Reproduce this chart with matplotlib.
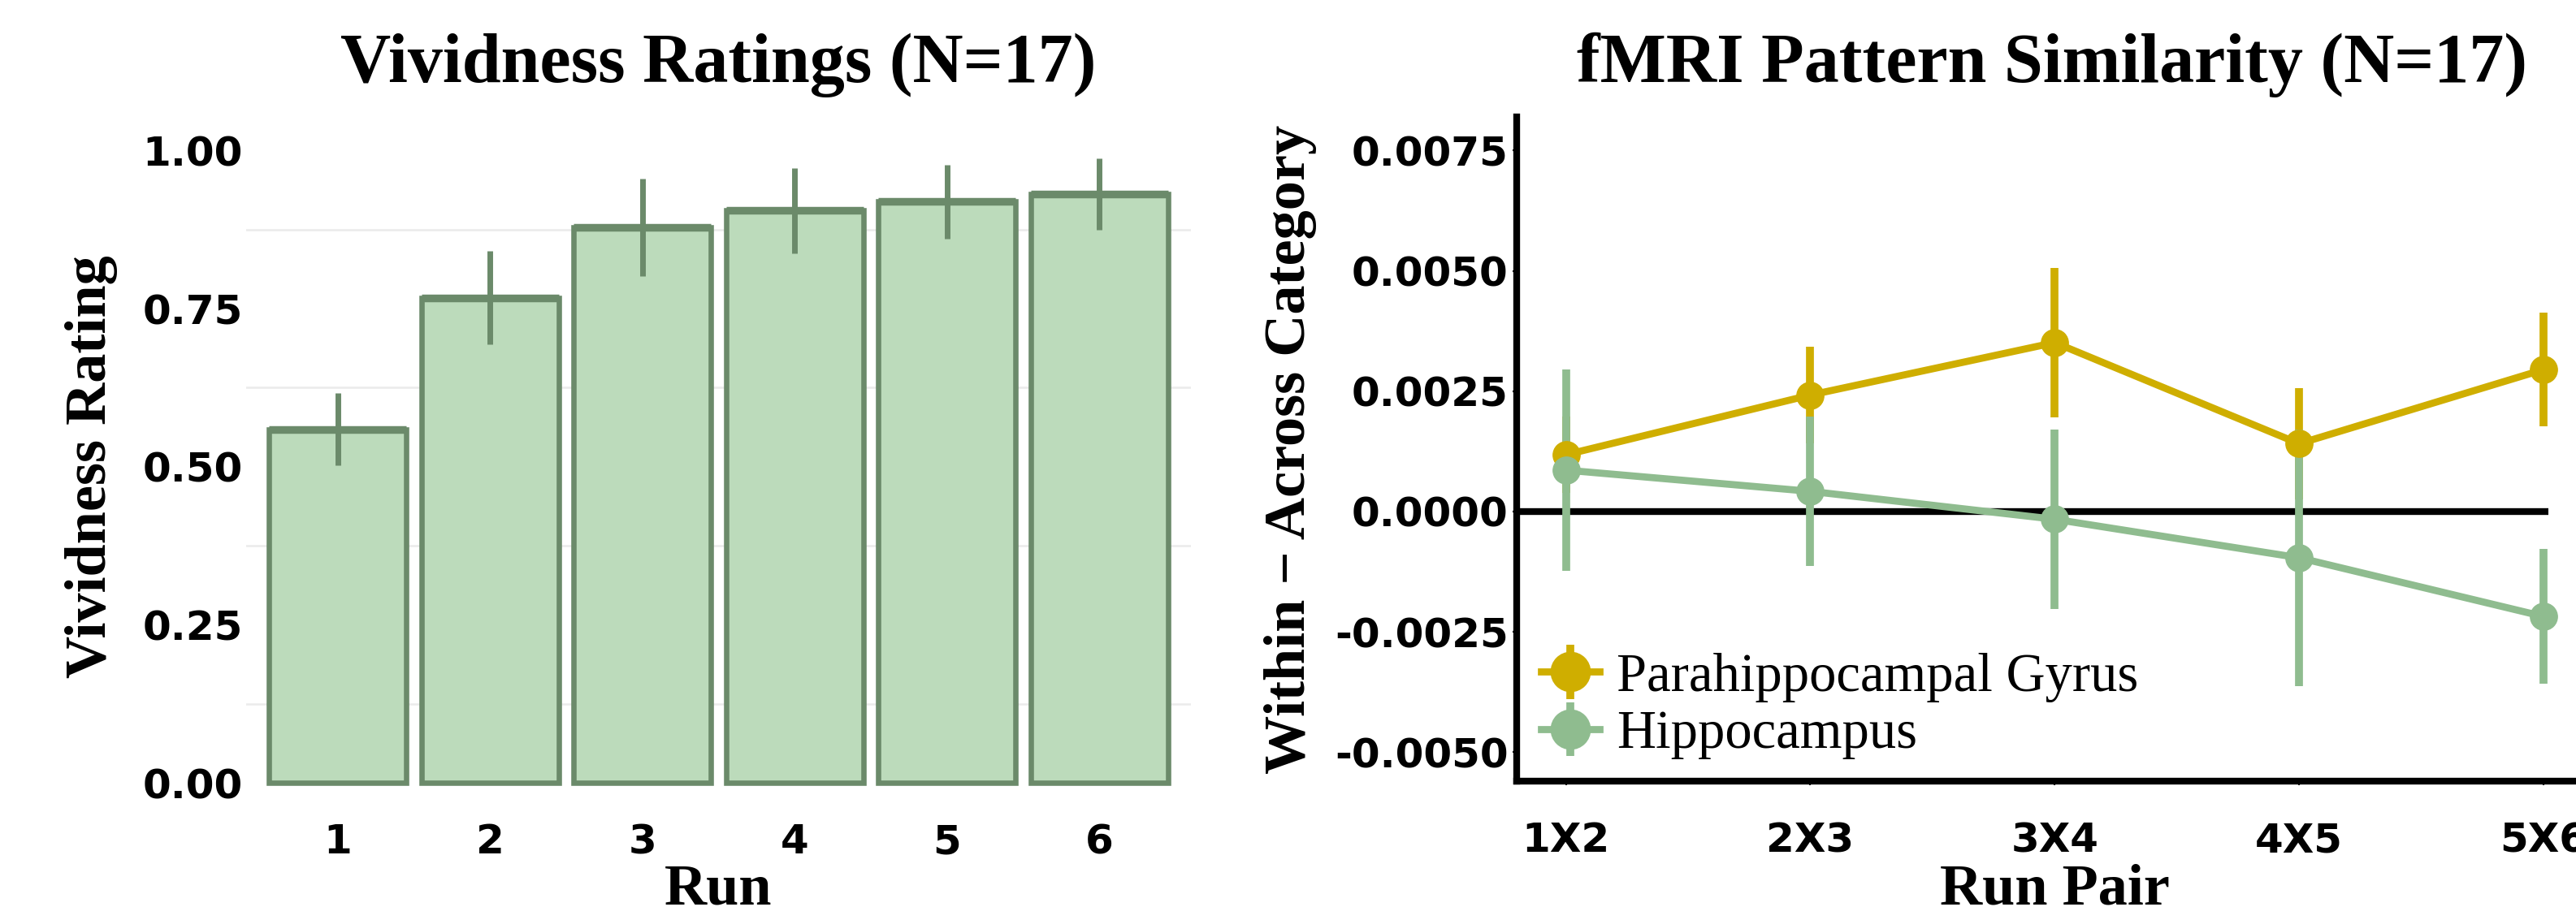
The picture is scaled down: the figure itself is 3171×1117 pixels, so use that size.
import numpy as np
import matplotlib.pyplot as plt

# Left panel: vividness ratings per run
runs = ['1', '2', '3', '4', '5', '6']
vivid_mean = [0.559, 0.767, 0.879, 0.905, 0.919, 0.931]
vivid_err = [0.057, 0.074, 0.077, 0.067, 0.058, 0.057]

# Right panel: within - across category similarity per run pair
pairs = ['1X2', '2X3', '3X4', '4X5', '5X6']
phg_mean = [0.00118, 0.00242, 0.00351, 0.00141, 0.00295]
phg_err = [0.0008, 0.0010, 0.00155, 0.00116, 0.00118]
hpc_mean = [0.00086, 0.00042, -0.00016, -0.00096, -0.00218]
hpc_err = [0.0021, 0.00155, 0.00186, 0.00266, 0.0014]

bar_fill = '#BCDBBB'
bar_edge = '#6B8A6A'
gold = '#CFAE00'
green = '#8FBC8F'

serif = 'Liberation Serif'
sans = 'DejaVu Sans'

fig = plt.figure(figsize=(31.71, 11.17), dpi=100)

# ---- left: bar chart ----
ax1 = fig.add_axes([0.0956, 0.1017, 0.3667, 0.7673])
x = np.arange(len(runs))
ax1.bar(x, vivid_mean, width=0.9, color=bar_fill, edgecolor=bar_edge, linewidth=4.75, zorder=2)
ax1.hlines(vivid_mean, x - 0.45, x + 0.45, color=bar_edge, linewidth=6.8, zorder=3)
ax1.errorbar(x, vivid_mean, yerr=vivid_err, fmt='none', ecolor=bar_edge,
             elinewidth=5, capsize=0, zorder=4)
ax1.set_xlim(-0.6, len(runs) - 0.4)
ax1.set_ylim(-0.05, 1.05)
ax1.set_yticks([0, 0.25, 0.5, 0.75, 1.0])
ax1.set_yticklabels(['%.2f' % v for v in [0, 0.25, 0.5, 0.75, 1.0]])
ax1.set_yticks([0.125, 0.375, 0.625, 0.875], minor=True)
ax1.grid(which='minor', axis='y', color='#EBEBEB', linewidth=1.8, zorder=0)
ax1.set_axisbelow(True)
ax1.set_xticks(x)
ax1.set_xticklabels(runs)
for s in ax1.spines.values():
    s.set_visible(False)
ax1.tick_params(axis='both', which='both', length=0)
ax1.tick_params(axis='y', pad=3)
ax1.tick_params(axis='x', pad=7)
for lab in ax1.get_xticklabels() + ax1.get_yticklabels():
    lab.set_fontfamily(sans)
    lab.set_fontweight('bold')
    lab.set_fontsize(36)
ax1.set_xlabel('Run', fontfamily=serif, fontweight='bold', fontsize=52, va='top')
ax1.xaxis.set_label_coords(0.5, -0.0707)
ax1.set_ylabel('Vividness Rating', fontfamily=serif, fontweight='bold', fontsize=52, va='center')
ax1.yaxis.set_label_coords(-0.1643, 0.5)
ax1.text(0.5, 1.0528, 'Vividness Ratings (N=17)', transform=ax1.transAxes,
         ha='center', va='baseline', fontfamily=serif, fontweight='bold', fontsize=62)

# ---- right: line chart with error bars ----
ax2 = fig.add_axes([0.5889, 0.1388, 0.4175, 0.7324])
xp = np.arange(len(pairs))
ax2.hlines(0, -0.2, len(pairs) - 1 + 0.02, color='black', linewidth=6, zorder=1)
ax2.errorbar(xp, phg_mean, yerr=phg_err, fmt='-o', color=gold, linewidth=6.3,
             elinewidth=7, markersize=24, capsize=0, label='Parahippocampal Gyrus', zorder=2)
ax2.errorbar(xp, hpc_mean, yerr=hpc_err, fmt='-o', color=green, linewidth=6.3,
             elinewidth=7, markersize=24, capsize=0, label='Hippocampus', zorder=2)
ax2.set_xlim(-0.2, len(pairs) - 1 + 0.2)
ax2.set_ylim(-0.0056, 0.0082)
ax2.set_yticks([-0.005, -0.0025, 0, 0.0025, 0.005, 0.0075])
ax2.set_yticklabels(['%.4f' % v for v in [-0.005, -0.0025, 0, 0.0025, 0.005, 0.0075]])
ax2.set_xticks(xp)
ax2.set_xticklabels(pairs)
ax2.spines['top'].set_visible(False)
ax2.spines['right'].set_visible(False)
ax2.spines['left'].set_linewidth(6)
ax2.spines['bottom'].set_linewidth(6)
ax2.tick_params(axis='both', length=3.6, width=1.5, color='black')
ax2.tick_params(axis='y', pad=4)
ax2.tick_params(axis='x', pad=32)
for lab in ax2.get_xticklabels() + ax2.get_yticklabels():
    lab.set_fontfamily(sans)
    lab.set_fontweight('bold')
    lab.set_fontsize(36)
ax2.set_xlabel('Run Pair', fontfamily=serif, fontweight='bold', fontsize=52, va='top')
ax2.xaxis.set_label_coords(0.5, -0.1247)
ax2.set_ylabel('Within \u2212 Across Category', fontfamily=serif, fontweight='bold',
               fontsize=52, va='center')
ax2.yaxis.set_label_coords(-0.211, 0.5)
ax2.text(0.4975, 1.0524, 'fMRI Pattern Similarity (N=17)', transform=ax2.transAxes,
         ha='center', va='baseline', fontfamily=serif, fontweight='bold', fontsize=62)
ax2.legend(loc='center left', bbox_to_anchor=(0.0221, 0.113), frameon=False,
           prop={'family': serif, 'size': 48}, handlelength=1.08, handletextpad=0.32,
           labelspacing=0.145, markerscale=1.45, borderaxespad=0, borderpad=0)

fig.savefig('out.png', dpi=100)
